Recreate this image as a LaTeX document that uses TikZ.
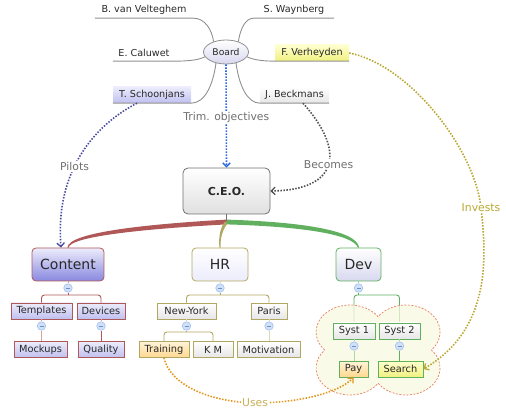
\documentclass[tikz,border=0pt]{standalone}
\usepackage{fontspec}
\setmainfont{DejaVu Sans}
\usetikzlibrary{shapes.geometric,arrows.meta,calc}
\definecolor{txt}{HTML}{282828}
\definecolor{lblg}{HTML}{707070}
\definecolor{ulc}{HTML}{909090}
\definecolor{cR}{HTML}{B05858}
\definecolor{cRl}{HTML}{D8A0A0}
\definecolor{cO}{HTML}{B0A860}
\definecolor{cOl}{HTML}{D8D8A8}
\definecolor{cG}{HTML}{60B060}
\definecolor{cGl}{HTML}{A8D8A8}
\definecolor{btnf}{HTML}{D0E0F8}
\definecolor{btnb}{HTML}{A0C0F0}
\definecolor{btnm}{HTML}{7090C0}
\definecolor{lavT}{HTML}{ECECFC}
\definecolor{lavB}{HTML}{C0C0F0}
\definecolor{conB}{HTML}{8888E0}
\definecolor{gryB}{HTML}{E6E6E6}
\definecolor{orT}{HTML}{FFF4D8}
\definecolor{orB}{HTML}{FFD890}
\definecolor{yeT}{HTML}{FFFFD0}
\definecolor{yeB}{HTML}{F0F080}
\definecolor{boardB}{HTML}{D8D8F0}
\definecolor{bordg}{HTML}{909090}
\definecolor{ceoB}{HTML}{E0E0E0}
\definecolor{trimc}{HTML}{2A6AE0}
\definecolor{pilc}{HTML}{4A4AA0}
\definecolor{becc}{HTML}{505050}
\definecolor{invc}{HTML}{B8A830}
\definecolor{usec}{HTML}{E09820}
\definecolor{uselbl}{HTML}{C8B058}
\definecolor{cloudf}{HTML}{F8F8E2}
\definecolor{cloudd}{HTML}{E88060}
\tikzset{
  nm/.style={inner sep=0pt, minimum height=16, font=\fontsize{9.6}{11}\selectfont, text=txt},
  leaf/.style={draw, line width=0.8pt, minimum height=16, inner sep=0pt, font=\fontsize{9.8}{11}\selectfont, text=txt},
  mainbox/.style={draw, line width=0.8pt, rounded corners=4pt, minimum height=33, inner sep=0pt, font=\fontsize{14}{16}\selectfont, text=txt},
  btn/.style={circle, draw=btnb, fill=btnf, line width=0.6pt, minimum size=8.5, inner sep=0pt,
    path picture={\draw[btnm, line width=0.6pt] ([xshift=-2pt]path picture bounding box.center) -- ([xshift=2pt]path picture bounding box.center);}},
  lbl/.style={fill=white, inner sep=1pt, font=\fontsize{10.8}{12}\selectfont, text=lblg},
  ul/.style={draw=ulc, line width=0.9pt},
  dots/.style={line width=1.6pt, dash pattern=on 1.5pt off 1.5pt},
  tip/.style={-{Straight Barb[length=3.8pt,width=7.5pt,line width=1.3pt]}},
  lav/.style={top color=lavT, bottom color=lavB},
  gry/.style={top color=white, bottom color=gryB},
  org/.style={top color=orT, bottom color=orB},
  yel/.style={top color=yeT, bottom color=yeB},
}
\begin{document}
\begin{tikzpicture}[x=1pt,y=-1pt]
\useasboundingbox (0,0) rectangle (506,411);
% ---- board and names
\node[ellipse, draw=bordg, line width=0.8pt, top color=white, bottom color=boardB, minimum width=45, minimum height=24, inner sep=0pt, font=\fontsize{9.2}{10}\selectfont, text=txt] (board) at (226,52) {Board};
\node[nm, minimum width=98] (bvv) at (144,10) {B. van Velteghem};
\node[nm, minimum width=80] (sw) at (294,10) {S. Waynberg};
\node[nm, minimum width=62] (ec) at (144,53) {E. Caluwet};
\node[nm, yel, minimum width=74] (fv) at (312,53) {F. Verheyden};
\node[nm, top color=lavT, bottom color=lavB, minimum width=78] (ts) at (152,95) {T. Schoonjans};
\node[nm, gry, minimum width=69] (jb) at (294.5,95) {J. Beckmans};
\draw[ul] (bvv.south west) -- (bvv.south east) .. controls (205,18) and (212,30) .. (board.140);
\draw[ul] (sw.south east) -- (sw.south west) .. controls (245,18) and (240,30) .. (board.40);
\draw[ul] (ec.south west) -- (ec.south east) .. controls (190,61) and (198,60) .. (board.193);
\draw[ul] (fv.south east) -- (fv.south west) .. controls (262,61) and (254,60) .. (board.347);
\draw[ul] (ts.south west) -- (ts.south east) .. controls (205,103) and (213,85) .. (board.228);
\draw[ul] (jb.south east) -- (jb.south west) .. controls (247,103) and (239,85) .. (board.312);
% ---- CEO
\node[draw=lblg, line width=0.8pt, rounded corners=5pt, top color=white, bottom color=ceoB, minimum width=87, minimum height=46, inner sep=0pt, font=\bfseries\fontsize{11}{13}\selectfont, text=txt] (ceo) at (226.5,191) {C.E.O.};
\draw[trimc, dots, tip] (board.south) -- node[lbl, pos=0.51] {Trim. objectives} (ceo.north);
% ---- main branches
\node[mainbox, draw=cR, top color=lavT, bottom color=conB, minimum width=72] (content) at (68,264.5) {Content};
\node[mainbox, draw=cO, fill=white, top color=white, bottom color=lavT, minimum width=56] (hr) at (220,264.5) {HR};
\node[mainbox, draw=cG, top color=white, bottom color=boardB, minimum width=45] (dev) at (358.5,264.5) {Dev};
\coordinate (hub) at (226.5,222);
\draw[lblg, line width=0.8pt] (ceo.south) -- (hub);
\fill[cR] ($(hub)+(0,-2.4)$) .. controls (150,224) and (68,232) .. ([xshift=-0.6pt]content.north) -- ([xshift=0.6pt]content.north) .. controls (70,236) and (150,228.5) .. ($(hub)+(0,2.4)$) -- cycle;
\fill[cO] ($(hub)+(-2,0)$) .. controls (220,229) and (218.5,237) .. ([xshift=-0.6pt]hr.north) -- ([xshift=0.6pt]hr.north) .. controls (220,237) and (223,229) .. ($(hub)+(2,0)$) -- cycle;
\fill[cG] ($(hub)+(0,-2.4)$) .. controls (300,222) and (357,230) .. ([xshift=0.6pt]dev.north) -- ([xshift=-0.6pt]dev.north) .. controls (353,234) and (300,226.5) .. ($(hub)+(0,2.4)$) -- cycle;
% ---- buttons
\node[btn] (mc) at (68,288) {};
\node[btn] (mh) at (220,288) {};
\node[btn] (md) at (358.5,288) {};
\coordinate (bar1) at (0,295);
\coordinate (bar2) at (0,332);
% ---- content subtree
\node[leaf, lav, draw=cR, minimum width=61] (templates) at (41.5,311) {Templates};
\node[leaf, lav, draw=cR, minimum width=48] (devices) at (101,311) {Devices};
\node[leaf, lav, draw=cR, minimum width=53] (mockups) at (40.5,349.5) {Mockups};
\node[leaf, lav, draw=cR, minimum width=46] (quality) at (101,349.5) {Quality};
\node[btn] (mt) at (41.5,326) {};
\node[btn] (mdv) at (101,326) {};
\draw[cRl, line width=0.9pt] (content.south) -- (mc.north);
\draw[cR, line width=0.9pt] (mc.south) -- (mc.south |- bar1);
\draw[cR, line width=0.9pt, rounded corners=3pt] (templates.north) -- (templates.north |- bar1) -- (devices.north |- bar1) -- (devices.north);
\draw[cRl, line width=0.9pt] (templates.south) -- (mt.north);
\draw[cRl, line width=0.9pt] (mt.south) -- (mt.south |- mockups.north);
\draw[cRl, line width=0.9pt] (devices.south) -- (mdv.north);
\draw[cR, line width=0.9pt] (mdv.south) -- (mdv.south |- quality.north);
% ---- HR subtree
\node[leaf, gry, draw=cO, minimum width=59] (ny) at (186.5,311) {New-York};
\node[leaf, gry, draw=cO, minimum width=36] (paris) at (269,311) {Paris};
\node[leaf, org, draw=cO, minimum width=50] (training) at (164,349.5) {Training};
\node[leaf, gry, draw=cO, minimum width=40] (km) at (213,349.5) {K M};
\node[leaf, gry, draw=cO, minimum width=63] (motivation) at (268.5,349.5) {Motivation};
\node[btn] (mny) at (186.5,326) {};
\node[btn] (mp) at (269,326) {};
\draw[cOl, line width=0.9pt] (hr.south) -- (mh.north);
\draw[cO, line width=0.9pt] (mh.south) -- (mh.south |- bar1);
\draw[cO, line width=0.9pt, rounded corners=3pt] (ny.north) -- (ny.north |- bar1) -- (paris.north |- bar1) -- (paris.north);
\draw[cOl, line width=0.9pt] (ny.south) -- (mny.north);
\draw[cO, line width=0.9pt] (mny.south) -- (mny.south |- bar2);
\draw[cO, line width=0.9pt, rounded corners=3pt] (training.north) -- (training.north |- bar2) -- (km.north |- bar2) -- (km.north);
\draw[cOl, line width=0.9pt] (paris.south) -- (mp.north);
\draw[cOl, line width=0.9pt] (mp.south) -- (mp.south |- motivation.north);
% ---- Dev subtree
\draw[cGl, line width=0.9pt] (dev.south) -- (md.north);
\draw[cG, line width=0.9pt] (md.south) -- (md.south |- bar1);
\draw[cG, line width=0.9pt, rounded corners=3pt] (354,323) -- (354,295) -- (399.5,295) -- (399.5,323);
\filldraw[fill=cloudf, draw=cloudd, line width=0.7pt, dash pattern=on 2pt off 1.5pt, fill opacity=0.75, draw opacity=1]
  (324.7,350) arc[start angle=138.2, end angle=325.5, x radius=34, y radius=27]
  arc[start angle=214.5, end angle=401.8, x radius=34, y radius=27]
  arc[start angle=318.2, end angle=505.5, x radius=34, y radius=27]
  arc[start angle=34.5, end angle=221.8, x radius=34, y radius=27] -- cycle;
\node[leaf, gry, draw=cG, minimum width=42] (syst1) at (354,331) {Syst 1};
\node[leaf, gry, draw=cG, minimum width=41] (syst2) at (399.5,331) {Syst 2};
\node[leaf, org, draw=cG, minimum width=29] (pay) at (353.5,369) {Pay};
\node[leaf, yel, draw=cG, minimum width=45] (search) at (400.5,369) {Search};
\node[btn] (ms1) at (354,346) {};
\node[btn] (ms2) at (399.5,346) {};
\draw[cGl, line width=0.9pt] (syst1.south) -- (ms1.north);
\draw[cGl, line width=0.9pt] (ms1.south) -- (ms1.south |- pay.north);
\draw[cGl, line width=0.9pt] (syst2.south) -- (ms2.north);
\draw[cG, line width=0.9pt] (ms2.south) -- (ms2.south |- search.north);
% ---- relations
\draw[pilc, dots, tip] ([xshift=-15pt]ts.south) .. controls (95,125) and (55,170) .. node[lbl, pos=0.58] {Pilots} ([xshift=-7pt]content.north);
\draw[becc, dots, tip] ([xshift=8.5pt]jb.south) .. controls (345,150) and (340,190) .. node[lbl, pos=0.5] {Becomes} (ceo.east);
\draw[invc, dots, tip] (fv.east) .. controls (410,65) and (475,150) .. (481,208) node[lbl, text=invc] {Invests} .. controls (487,260) and (490,330) .. (search.east);
\draw[usec, dots, tip] (training.south) .. controls (170,385) and (210,402) .. (255,403) node[lbl, text=uselbl] {Uses} .. controls (300,403) and (340,392) .. (pay.south);
\end{tikzpicture}
\end{document}
